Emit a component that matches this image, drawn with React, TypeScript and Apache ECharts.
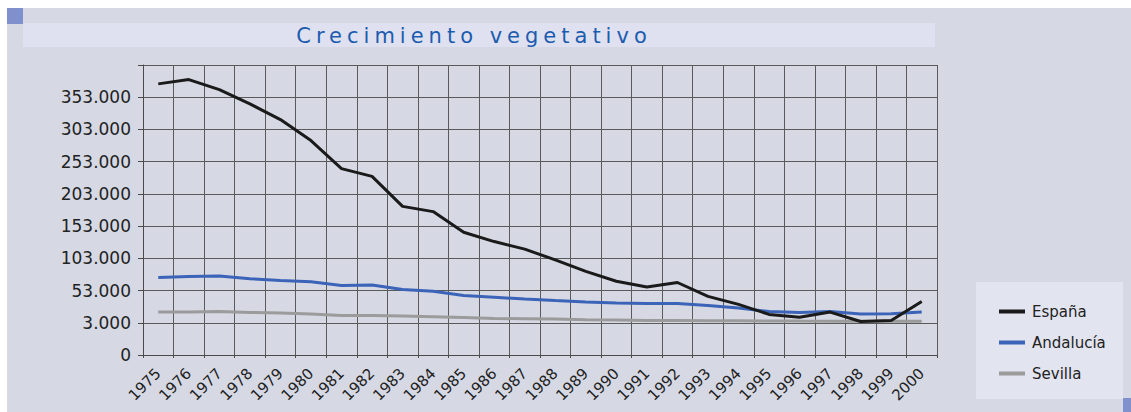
import React, { useEffect, useRef } from "react";
import * as echarts from "echarts";

const years = ["1975","1976","1977","1978","1979","1980","1981","1982","1983","1984","1985","1986","1987","1988","1989","1990","1991","1992","1993","1994","1995","1996","1997","1998","1999","2000"];
const espana = [373700, 380400, 364800, 342600, 318300, 285700, 242200, 230200, 183600, 175500, 143500, 129000, 117300, 100500, 82700, 67500, 58400, 65500, 44000, 31500, 16000, 11500, 19600, 5000, 6600, 36100];
const andalucia = [73400, 74900, 75500, 71300, 68700, 66700, 60900, 61500, 54700, 52000, 45200, 42600, 39800, 37400, 35300, 33500, 32800, 33000, 29700, 25800, 20500, 18800, 20500, 16800, 17000, 19800];
const sevilla = [19600, 19900, 20500, 19000, 18000, 16500, 14300, 14300, 13400, 12300, 11200, 9700, 9200, 8700, 7700, 7200, 6600, 6500, 6200, 6000, 5800, 5600, 5500, 5300, 5300, 5500];
const yTickStart = -47000;
const yTickStep = 50000;
const yTickEnd = 403000;
const titleText = "Crecimiento vegetativo";

const FONT = "DejaVu Sans";
const TITLE_COLOR = "#1c5caf";

function fmt(v: number): string {
  if (v < 0) return "0";
  if (v > 400000) return "";
  const s = Math.round(v).toString();
  return s.replace(/\B(?=(\d{3})+(?!\d))/g, ".");
}

export default function App() {
  const ref = useRef<HTMLDivElement>(null);
  useEffect(() => {
    if (!ref.current) return;
    const chart = echarts.init(ref.current, null, { renderer: "svg" });
    chart.setOption({
      animation: false,
      backgroundColor: "#ffffff",
      textStyle: { fontFamily: FONT },
      graphic: [
        { type: "rect", silent: true, z: -10, shape: { x: 7, y: 8, width: 1124, height: 404 }, style: { fill: "#d6d9e4" } },
        { type: "rect", silent: true, z: -9, shape: { x: 7, y: 8, width: 16, height: 16 }, style: { fill: "#8090cc" } },
        { type: "rect", silent: true, z: -9, shape: { x: 1123, y: 398, width: 8, height: 14 }, style: { fill: "#8090cc" } },
        { type: "rect", silent: true, z: -9, shape: { x: 23, y: 23, width: 912, height: 24 }, style: { fill: "#dfe1f0" } },
        { type: "rect", silent: true, z: -9, shape: { x: 976, y: 282, width: 147, height: 117 }, style: { fill: "#e2e4f0" } },
        {
          type: "text", silent: true, z: 10, x: 474, y: 36,
          style: { text: titleText, fill: TITLE_COLOR, font: `21px "${FONT}"`, align: "center", verticalAlign: "middle" },
        },
      ],
      grid: { left: 143, right: 194, top: 65, bottom: 57, containLabel: false },
      legend: {
        orient: "vertical",
        left: 994,
        top: 299,
        itemWidth: 26,
        itemHeight: 4,
        itemGap: 16,
        icon: "rect",
        textStyle: { fontSize: 15, color: "#222", fontFamily: FONT, padding: [0, 0, 0, 2] },
        data: ["España", "Andalucía", "Sevilla"],
      },
      xAxis: {
        type: "category",
        data: years,
        boundaryGap: true,
        axisLine: { onZero: false, lineStyle: { color: "#4a4a4a", width: 1 } },
        axisTick: { show: true, interval: 0, length: 3, lineStyle: { color: "#4a4a4a" } },
        axisLabel: { interval: 0, rotate: 45, margin: 16, fontSize: 15, color: "#222", fontFamily: FONT },
        splitLine: { show: true, interval: 0, lineStyle: { color: "#5a5a5a", width: 1 } },
      },
      yAxis: {
        type: "value",
        min: yTickStart,
        max: yTickEnd,
        interval: yTickStep,
        axisLine: { show: true, lineStyle: { color: "#4a4a4a", width: 1 } },
        axisTick: { show: true, length: 5, lineStyle: { color: "#4a4a4a" } },
        axisLabel: { margin: 12, fontSize: 17, color: "#222", fontFamily: FONT, formatter: (v: number) => fmt(v) },
        splitLine: { show: true, lineStyle: { color: "#5a5a5a", width: 1 } },
      },
      series: [
        { name: "España", type: "line", data: espana, z: 5, symbol: "none", lineStyle: { color: "#1a1a1a", width: 3 }, itemStyle: { color: "#1a1a1a" } },
        { name: "Andalucía", type: "line", data: andalucia, z: 4, symbol: "none", lineStyle: { color: "#3b63b8", width: 3 }, itemStyle: { color: "#3b63b8" } },
        { name: "Sevilla", type: "line", data: sevilla, z: 3, symbol: "none", lineStyle: { color: "#9b9b9b", width: 3 }, itemStyle: { color: "#9b9b9b" } },
      ],
    });
    const texts = ref.current.querySelectorAll("text");
    texts.forEach((t) => {
      if (t.textContent === titleText) t.setAttribute("letter-spacing", "5");
    });
    return () => chart.dispose();
  }, []);
  return (
    <>
      <style>{`svg text[fill="${TITLE_COLOR}"]{letter-spacing:5px}`}</style>
      <div ref={ref} style={{ position: "fixed", left: 0, top: 0, width: 1131, height: 412 }} />
    </>
  );
}
